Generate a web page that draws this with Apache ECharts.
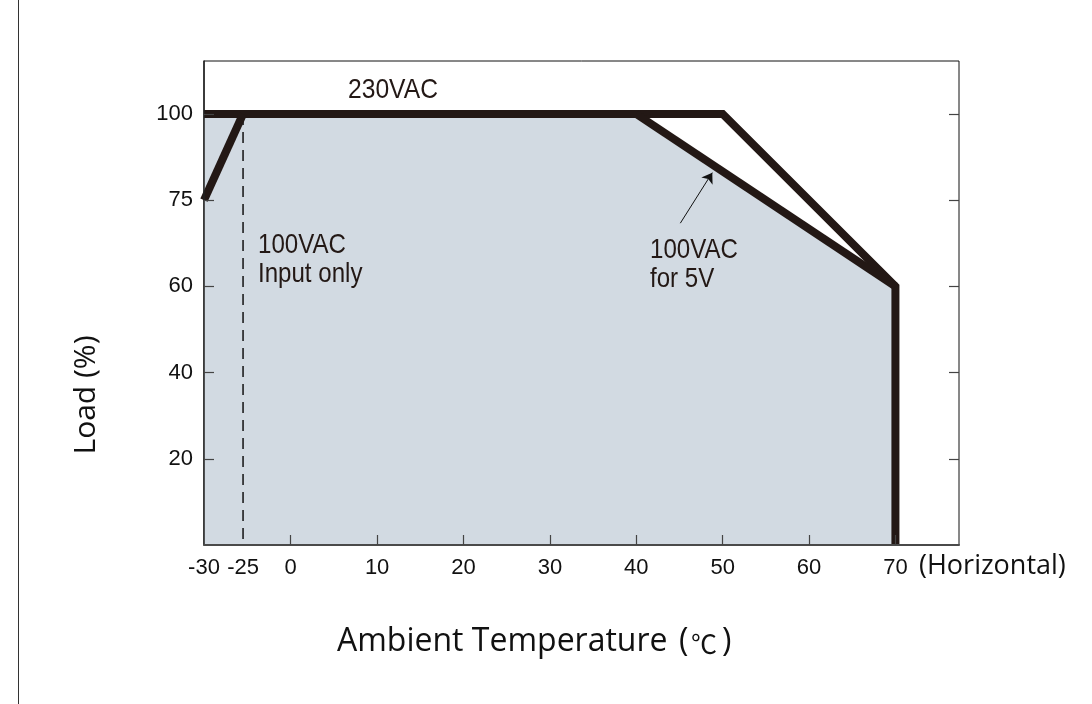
<!DOCTYPE html>
<html>
<head>
<meta charset="utf-8">
<script src="https://cdn.jsdelivr.net/npm/echarts@6/dist/echarts.min.js"></script>
<style>
html,body{margin:0;padding:0;background:#fff;}
#chart{width:1092px;height:704px;}
</style>
</head>
<body>
<div id="chart"></div>
<script>
// ---- data ----
const xTickTemps = [-30, -25, 0, 10, 20, 30, 40, 50, 60, 70];
const yTickLoads = [20, 40, 60, 75, 100];

// 230VAC derating curve
const line230Temps = [-30, 50, 70, 70];
const line230Loads = [100, 100, 60, 0];
// 100VAC for 5V curve
const line5VTemps = [40, 70];
const line5VLoads = [100, 60];
// 100VAC input only (low-temperature part)
const lineInputTemps = [-30, -25];
const lineInputLoads = [75, 100];
// dashed marker at -25
const dashTemps = [-25, -25];
const dashLoads = [100, 0];
// shaded operating area
const areaTemps = [-30, 40, 70, 70];
const areaLoads = [100, 100, 60, 0];
// annotation arrow (start -> tip)
const arrowTemps = [45.1, 48.8];
const arrowLoads = [71, 83];

// axis scale definitions (the printed axes are not uniform)
const xScaleKnots = [[-30, -10.04], [-25, -5.52], [0, 0], [70, 70]];
const yScaleKnots = [[0, 0], [60, 60], [75, 80], [100, 100]];

function mapKnots(knots, v, from, to) {
  let i = 0;
  while (i < knots.length - 2 && v > knots[i + 1][from]) i++;
  const a = knots[i], b = knots[i + 1];
  return a[to] + (v - a[from]) * (b[to] - a[to]) / (b[from] - a[from]);
}
const toX = t => mapKnots(xScaleKnots, t, 0, 1);
const fromX = u => mapKnots(xScaleKnots, u, 1, 0);
const toY = l => mapKnots(yScaleKnots, l, 0, 1);
const fromY = u => mapKnots(yScaleKnots, u, 1, 0);
const pts = (ts, ls) => ts.map((t, i) => [toX(t), toY(ls[i])]);

const SANS = "'Liberation Sans', Arial, sans-serif";
const HUM = "'Open Sans', 'Noto Sans', sans-serif";
const DARK = '#231815';

const chart = echarts.init(document.getElementById('chart'), null, {renderer: 'canvas'});

const option = {
  backgroundColor: '#ffffff',
  animation: false,
  grid: {
    left: 204, right: 133, top: 61, bottom: 159,
    show: true, borderColor: '#111', borderWidth: 1, backgroundColor: 'transparent'
  },
  xAxis: {
    type: 'value',
    min: toX(-30), max: toX(77.36),
    z: 5,
    axisLine: {show: true, onZero: false, lineStyle: {color: '#4a4a4a', width: 2}},
    splitLine: {show: false},
    axisTick: {show: true, inside: true, length: 10, lineStyle: {color: '#444', width: 1.2},
      customValues: xTickTemps.filter(t => t >= 0).map(toX)},
    axisLabel: {
      show: true, margin: 12, color: '#111', fontSize: 22, fontFamily: SANS,
      customValues: xTickTemps.map(toX),
      formatter: v => String(Math.round(fromX(v)))
    }
  },
  yAxis: [{
    type: 'value',
    min: 0, max: 112.3,
    z: 5,
    axisLine: {show: true, onZero: false, lineStyle: {color: '#222', width: 1.5}},
    splitLine: {show: false},
    axisTick: {show: true, inside: true, length: 10, lineStyle: {color: '#444', width: 1.2},
      customValues: yTickLoads.map(toY)},
    axisLabel: {
      show: true, margin: 11, color: '#111', fontSize: 22, fontFamily: SANS,
      customValues: yTickLoads.map(toY),
      formatter: v => String(Math.round(fromY(v)))
    }
  }, {
    type: 'value', position: 'right',
    min: 0, max: 112.3,
    z: 5,
    axisLine: {show: false, onZero: false},
    splitLine: {show: false},
    axisTick: {show: true, inside: true, length: 10, lineStyle: {color: '#444', width: 1.2},
      customValues: yTickLoads.map(toY)},
    axisLabel: {show: false}
  }],
  series: [
    {
      name: 'area', type: 'line', z: 1,
      data: pts(areaTemps, areaLoads),
      showSymbol: false, symbol: 'none',
      lineStyle: {width: 0, opacity: 0},
      areaStyle: {color: '#d2dae2', opacity: 1}
    },
    {
      name: 'dash', type: 'line', z: 3,
      data: pts(dashTemps, dashLoads),
      symbol: 'none',
      lineStyle: {color: '#111', width: 1.5, type: [11, 7]}
    },
    {
      name: '230VAC', type: 'line', z: 4,
      data: pts(line230Temps, line230Loads),
      symbol: 'none',
      lineStyle: {color: DARK, width: 8, join: 'miter', cap: 'butt'}
    },
    {
      name: '100VAC for 5V', type: 'line', z: 4,
      data: pts(line5VTemps, line5VLoads),
      symbol: 'none',
      lineStyle: {color: DARK, width: 8, join: 'miter', cap: 'butt'}
    },
    {
      name: '100VAC input only', type: 'line', z: 4,
      data: pts(lineInputTemps, lineInputLoads),
      symbol: 'none',
      lineStyle: {color: DARK, width: 8, join: 'miter', cap: 'butt'},
      markLine: {
        silent: true, animation: false,
        symbol: ['none', 'arrow'], symbolSize: 10,
        label: {show: false},
        emphasis: {disabled: true},
        lineStyle: {color: '#111', width: 1, type: 'solid', opacity: 1},
        itemStyle: {color: '#111'},
        data: [[{coord: [toX(arrowTemps[0]), toY(arrowLoads[0])]},
                {coord: [toX(arrowTemps[1]), toY(arrowLoads[1])]}]]
      }
    }
  ],
  graphic: [
    {type: 'line', z: 100, shape: {x1: 18.5, y1: 0, x2: 18.5, y2: 704}, style: {stroke: '#333', lineWidth: 1}},
    {type: 'text', z: 100, x: 348, y: 76, scaleX: 0.88, style: {text: '230VAC', font: "28px " + SANS, fill: DARK}},
    {type: 'text', z: 100, x: 258, y: 231, scaleX: 0.86, style: {text: '100VAC\nInput only', font: "28px " + SANS, fill: DARK, lineHeight: 29}},
    {type: 'text', z: 100, x: 650, y: 236, scaleX: 0.86, style: {text: '100VAC\nfor 5V', font: "28px " + SANS, fill: DARK, lineHeight: 29}},
    {type: 'text', z: 100, left: 919, top: 553, style: {text: '(Horizontal)', font: "27px " + HUM, fill: '#111'}},
    {type: 'text', z: 100, left: 337, top: 626, style: {text: 'Ambient Temperature', font: "32px " + HUM, fill: '#111'}},
    {type: 'text', z: 100, left: 679, top: 626, style: {text: '(', font: "32px " + HUM, fill: '#111'}},
    {type: 'text', z: 100, left: 691, top: 631, style: {text: '℃', font: "26px 'Noto Sans CJK SC', sans-serif", fill: '#111'}},
    {type: 'text', z: 100, left: 722, top: 626, style: {text: ')', font: "32px " + HUM, fill: '#111'}},
    {type: 'text', z: 100, x: 86, y: 395, rotation: Math.PI / 2,
      style: {text: 'Load (%)', font: "30px " + HUM, fill: '#111', align: 'center', verticalAlign: 'middle'}}
  ]
};
chart.setOption(option);
</script>
</body>
</html>
